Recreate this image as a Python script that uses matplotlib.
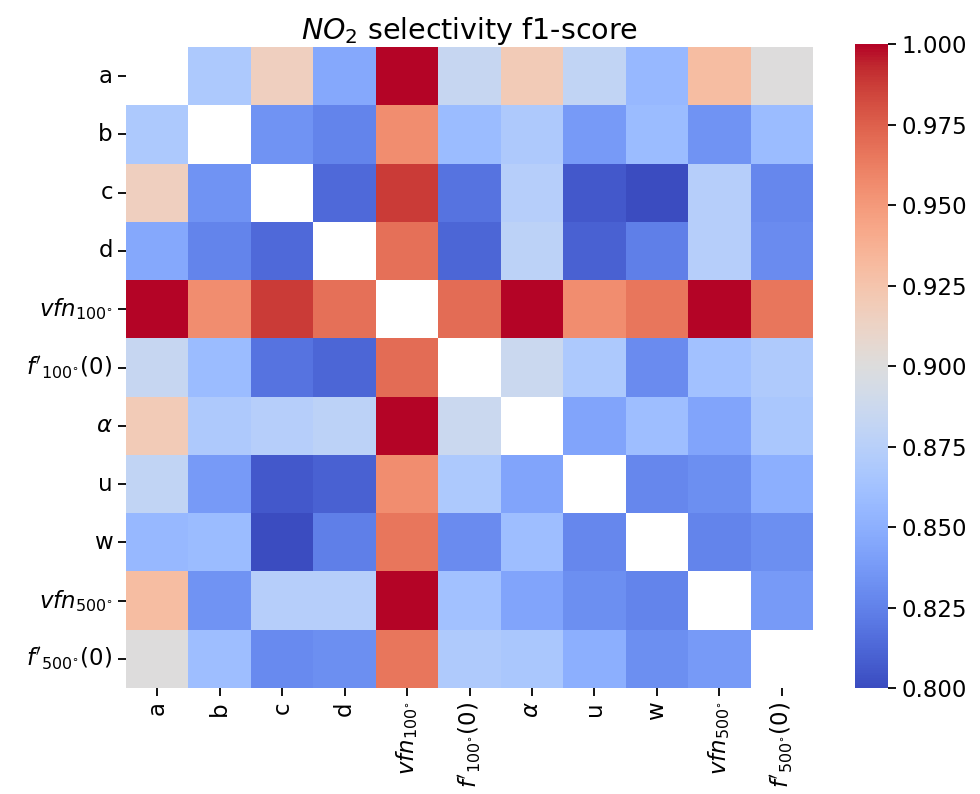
import numpy as np
import matplotlib
matplotlib.use("Agg")
import matplotlib.pyplot as plt
import seaborn as sns

labels = ["a", "b", "c", "d", r"$vfn_{100^{\circ}}$", r"$f'_{100^{\circ}}(0)$",
          r"$\alpha$", "u", "w", r"$vfn_{500^{\circ}}$", r"$f'_{500^{\circ}}(0)$"]

nan = np.nan
row_a      = [nan, 0.868, 0.916, 0.846, 1.000, 0.884, 0.920, 0.881, 0.856, 0.930, 0.900]
row_b      = [0.868, nan, 0.834, 0.826, 0.956, 0.858, 0.869, 0.838, 0.858, 0.834, 0.858]
row_c      = [0.916, 0.834, nan, 0.814, 0.988, 0.818, 0.874, 0.806, 0.800, 0.874, 0.828]
row_d      = [0.846, 0.826, 0.814, nan, 0.968, 0.8125, 0.878, 0.810, 0.824, 0.874, 0.830]
row_vfn100 = [1.000, 0.956, 0.988, 0.968, nan, 0.970, 1.000, 0.956, 0.966, 1.000, 0.966]
row_f100   = [0.884, 0.858, 0.818, 0.8125, 0.970, nan, 0.886, 0.868, 0.830, 0.862, 0.870]
row_alpha  = [0.920, 0.869, 0.874, 0.878, 1.000, 0.886, nan, 0.843, 0.860, 0.843, 0.867]
row_u      = [0.881, 0.838, 0.806, 0.810, 0.956, 0.868, 0.843, nan, 0.828, 0.832, 0.850]
row_w      = [0.856, 0.858, 0.800, 0.824, 0.966, 0.830, 0.860, 0.828, nan, 0.826, 0.832]
row_vfn500 = [0.930, 0.834, 0.874, 0.874, 1.000, 0.862, 0.843, 0.832, 0.826, nan, 0.838]
row_f500   = [0.900, 0.860, 0.829, 0.832, 0.966, 0.870, 0.867, 0.850, 0.832, 0.838, nan]

data = np.array([row_a, row_b, row_c, row_d, row_vfn100, row_f100,
                 row_alpha, row_u, row_w, row_vfn500, row_f500])

plt.rcParams['font.family'] = ['DejaVu Sans']
fig = plt.figure(figsize=(9.8, 7.94), dpi=100)
ax = fig.add_axes([0.1286, 0.1335, 0.701, 0.8073])
cax = fig.add_axes([0.8724, 0.1335, 0.0337, 0.8105])

sns.heatmap(data, cmap="coolwarm", vmin=0.8, vmax=1.0, ax=ax, cbar_ax=cax,
            xticklabels=labels, yticklabels=labels)

ax.tick_params(axis="both", labelsize=16.5, length=6, width=1.3)
ax.set_xticklabels(labels, rotation=90, fontsize=16.5)
ax.set_yticklabels(labels, rotation=0, fontsize=16.5)
ax.set_title(r"$NO_2$ selectivity f1-score", fontsize=20.5, pad=6)

cticks = [0.8, 0.825, 0.85, 0.875, 0.9, 0.925, 0.95, 0.975, 1.0]
cax.set_yticks(cticks)
cax.set_yticklabels([f"{t:.3f}" for t in cticks])
cax.tick_params(labelsize=16.5, length=6, width=1.3)

fig.savefig("out.png", dpi=100)
